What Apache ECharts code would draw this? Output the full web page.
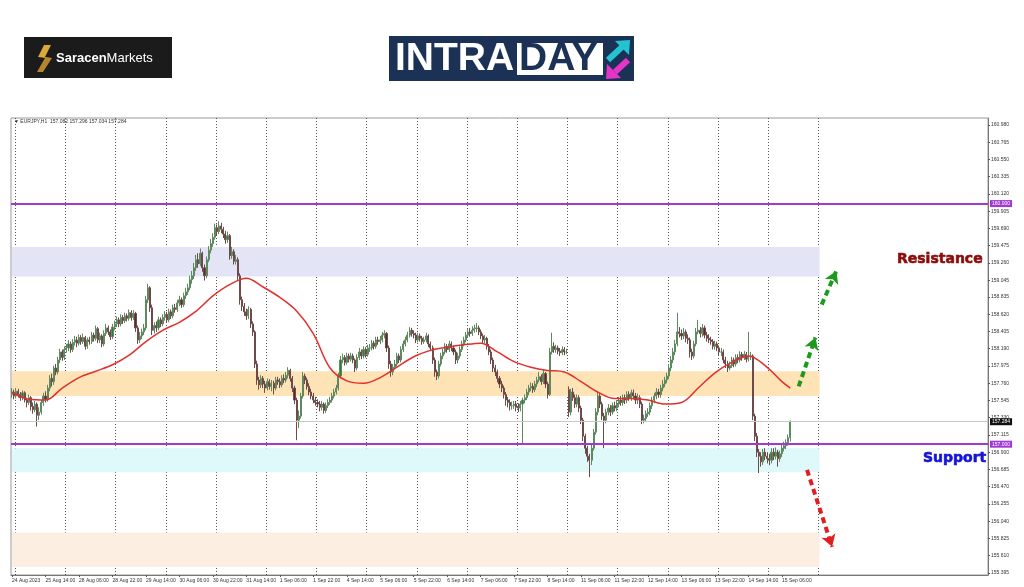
<!DOCTYPE html>
<html><head><meta charset="utf-8">
<script src="https://cdn.jsdelivr.net/npm/echarts@6/dist/echarts.min.js"></script>
<style>html,body{margin:0;padding:0;background:#fff}#c{width:1024px;height:587px}</style>
</head><body><div id="c"></div>
<script>
// ---------- DATA (EURJPY H1) ----------
const opens = [
157.62,157.65,157.60,157.66,157.62,157.58,157.64,157.55,157.52,157.58,
157.47,157.43,157.50,157.36,157.40,157.52,157.60,157.56,157.70,157.82,
157.78,157.95,157.90,158.05,158.15,158.08,158.18,158.20,158.25,158.18,
158.27,158.30,158.26,158.33,158.28,158.33,158.22,158.30,158.28,158.36,
158.32,158.44,158.30,158.35,158.25,158.38,158.45,158.40,158.34,158.46,
158.50,158.55,158.50,158.58,158.54,158.60,158.57,158.64,158.58,158.63,
158.45,158.30,158.35,158.40,158.45,158.80,158.95,158.70,158.42,158.48,
158.45,158.55,158.50,158.58,158.62,158.55,158.65,158.60,158.70,158.68,
158.76,158.80,158.74,158.85,158.90,158.95,159.05,159.10,159.20,159.30,
159.25,159.38,159.20,159.10,159.30,159.42,159.50,159.58,159.70,159.65,
159.72,159.68,159.62,159.55,159.60,159.35,159.40,159.28,159.30,159.10,
158.80,158.72,158.65,158.60,158.68,158.50,158.40,158.00,157.80,157.74,
157.82,157.75,157.70,157.78,157.72,157.76,157.70,157.80,157.78,157.74,
157.82,157.80,157.86,157.92,157.82,157.70,157.55,157.30,157.35,157.60,
157.85,157.80,157.72,157.65,157.60,157.55,157.52,157.50,157.46,157.50,
157.42,157.48,157.52,157.55,157.60,157.65,157.70,157.85,158.05,158.08,
158.02,158.10,158.06,158.10,158.05,157.95,158.08,158.15,158.10,158.18,
158.12,158.20,158.20,158.26,158.22,158.30,158.28,158.30,158.36,158.38,
158.20,158.00,157.90,157.96,158.00,158.10,158.05,158.18,158.25,158.30,
158.36,158.42,158.38,158.36,158.30,158.35,158.32,158.28,158.30,158.35,
158.25,158.20,158.05,157.90,157.85,158.00,158.10,158.15,158.22,158.18,
158.25,158.20,158.15,158.05,158.10,158.18,158.25,158.30,158.36,158.40,
158.38,158.42,158.44,158.45,158.40,158.35,158.30,158.32,158.22,158.15,
158.05,157.95,157.90,157.82,157.75,157.70,157.62,157.55,157.52,157.48,
157.48,157.50,157.46,157.45,157.50,157.55,157.58,157.65,157.70,157.72,
157.68,157.75,157.80,157.84,157.78,157.88,157.75,157.62,158.15,158.22,
158.18,158.20,158.16,158.14,158.18,158.15,157.68,157.40,157.65,157.58,
157.50,157.58,157.45,157.30,157.10,156.95,156.85,156.80,156.95,157.15,
157.40,157.60,157.50,157.35,157.30,157.40,157.45,157.40,157.48,157.45,
157.50,157.55,157.52,157.58,157.55,157.62,157.58,157.64,157.60,157.55,
157.58,157.50,157.30,157.32,157.38,157.40,157.48,157.55,157.60,157.65,
157.62,157.70,157.75,157.80,157.85,157.95,158.05,158.15,158.25,158.40,
158.38,158.35,158.40,158.32,158.30,158.15,158.10,158.25,158.40,158.42,
158.38,158.45,158.36,158.32,158.30,158.28,158.22,158.25,158.20,158.15,
158.15,158.05,158.00,157.95,157.98,158.05,158.00,158.08,158.05,158.12,
158.08,158.12,158.06,158.10,158.10,157.35,157.10,156.90,156.85,156.78,
156.90,156.85,156.82,156.80,156.90,156.85,156.90,156.82,156.88,156.95,
156.98,157.02,157.082];
const closes = [
157.65,157.60,157.66,157.62,157.58,157.64,157.55,157.52,157.58,157.47,
157.43,157.50,157.36,157.40,157.52,157.60,157.56,157.70,157.82,157.78,
157.95,157.90,158.05,158.15,158.08,158.18,158.20,158.25,158.18,158.27,
158.30,158.26,158.33,158.28,158.33,158.22,158.30,158.28,158.36,158.32,
158.44,158.30,158.35,158.25,158.38,158.45,158.40,158.34,158.46,158.50,
158.55,158.50,158.58,158.54,158.60,158.57,158.64,158.58,158.63,158.45,
158.30,158.35,158.40,158.45,158.80,158.95,158.70,158.42,158.48,158.45,
158.55,158.50,158.58,158.62,158.55,158.65,158.60,158.70,158.68,158.76,
158.80,158.74,158.85,158.90,158.95,159.05,159.10,159.20,159.30,159.25,
159.38,159.20,159.10,159.30,159.42,159.50,159.58,159.70,159.65,159.72,
159.68,159.62,159.55,159.60,159.35,159.40,159.28,159.30,159.10,158.80,
158.72,158.65,158.60,158.68,158.50,158.40,158.00,157.80,157.74,157.82,
157.75,157.70,157.78,157.72,157.76,157.70,157.80,157.78,157.74,157.82,
157.80,157.86,157.92,157.82,157.70,157.55,157.30,157.35,157.60,157.85,
157.80,157.72,157.65,157.60,157.55,157.52,157.50,157.46,157.50,157.42,
157.48,157.52,157.55,157.60,157.65,157.70,157.85,158.05,158.08,158.02,
158.10,158.06,158.10,158.05,157.95,158.08,158.15,158.10,158.18,158.12,
158.20,158.20,158.26,158.22,158.30,158.28,158.30,158.36,158.38,158.20,
158.00,157.90,157.96,158.00,158.10,158.05,158.18,158.25,158.30,158.36,
158.42,158.38,158.36,158.30,158.35,158.32,158.28,158.30,158.35,158.25,
158.20,158.05,157.90,157.85,158.00,158.10,158.15,158.22,158.18,158.25,
158.20,158.15,158.05,158.10,158.18,158.25,158.30,158.36,158.40,158.38,
158.42,158.44,158.45,158.40,158.35,158.30,158.32,158.22,158.15,158.05,
157.95,157.90,157.82,157.75,157.70,157.62,157.55,157.52,157.48,157.48,
157.50,157.46,157.45,157.50,157.55,157.58,157.65,157.70,157.72,157.68,
157.75,157.80,157.84,157.78,157.88,157.75,157.62,158.15,158.22,158.18,
158.20,158.16,158.14,158.18,158.15,158.15,157.40,157.65,157.58,157.50,
157.58,157.45,157.30,157.10,156.95,156.85,156.80,156.95,157.15,157.40,
157.60,157.50,157.35,157.30,157.40,157.45,157.40,157.48,157.45,157.50,
157.55,157.52,157.58,157.55,157.62,157.58,157.64,157.60,157.55,157.58,
157.50,157.30,157.32,157.38,157.40,157.48,157.55,157.60,157.65,157.62,
157.70,157.75,157.80,157.85,157.95,158.05,158.15,158.25,158.40,158.38,
158.35,158.40,158.32,158.30,158.15,158.10,158.25,158.40,158.42,158.38,
158.45,158.36,158.32,158.30,158.28,158.22,158.25,158.20,158.15,158.15,
158.05,158.00,157.95,157.98,158.05,158.00,158.08,158.05,158.12,158.08,
158.12,158.06,158.10,158.10,157.35,157.10,156.90,156.85,156.78,156.90,
156.85,156.82,156.80,156.90,156.85,156.90,156.82,156.88,156.95,156.98,
157.02,157.08,157.284];
const highs = [
157.70,157.68,157.70,157.69,157.65,157.67,157.66,157.58,157.62,157.60,
157.52,157.54,157.52,157.46,157.55,157.64,157.66,157.74,157.86,157.88,
157.98,158.00,158.09,158.19,158.18,158.22,158.25,158.30,158.28,158.31,
158.35,158.34,158.37,158.36,158.38,158.35,158.33,158.34,158.40,158.39,
158.48,158.46,158.39,158.37,158.42,158.50,158.48,158.43,158.50,158.54,
158.59,158.58,158.62,158.61,158.64,158.63,158.68,158.67,158.67,158.65,
158.48,158.40,158.44,158.50,158.85,159.00,158.97,158.74,158.52,158.53,
158.59,158.58,158.62,158.66,158.65,158.69,158.68,158.74,158.75,158.80,
158.85,158.83,158.89,158.95,159.00,159.10,159.16,159.26,159.36,159.38,
159.44,159.40,159.24,159.34,159.47,159.56,159.63,159.75,159.74,159.78,
159.76,159.71,159.66,159.65,159.62,159.46,159.43,159.36,159.33,159.13,
158.84,158.76,158.69,158.72,158.70,158.53,158.42,158.04,157.84,157.86,
157.85,157.79,157.82,157.81,157.80,157.79,157.84,157.84,157.82,157.86,
157.87,157.90,157.96,157.94,157.85,157.73,157.58,157.42,157.64,157.90,
157.88,157.83,157.76,157.69,157.64,157.59,157.56,157.54,157.54,157.52,
157.52,157.56,157.59,157.64,157.69,157.74,157.89,158.10,158.13,158.11,
158.14,158.13,158.14,158.13,158.07,158.12,158.20,158.18,158.22,158.21,
158.24,158.25,158.30,158.29,158.34,158.34,158.35,158.40,158.42,158.40,
158.23,158.04,158.00,158.05,158.14,158.13,158.22,158.29,158.34,158.40,
158.46,158.45,158.42,158.39,158.39,158.38,158.35,158.34,158.39,158.37,
158.28,158.23,158.08,157.93,158.04,158.14,158.19,158.26,158.25,158.29,
158.28,158.23,158.18,158.14,158.22,158.29,158.34,158.40,158.44,158.45,
158.47,158.49,158.51,158.48,158.43,158.38,158.36,158.34,158.25,158.18,
158.08,157.99,157.93,157.85,157.79,157.73,157.65,157.59,157.56,157.53,
157.54,157.54,157.51,157.54,157.58,157.62,157.69,157.74,157.77,157.76,
157.79,157.84,157.90,157.87,157.93,157.90,157.78,158.20,158.39,158.27,
158.24,158.23,158.20,158.22,158.21,158.19,157.72,157.69,157.70,157.62,
157.62,157.61,157.48,157.33,157.13,156.98,156.88,156.99,157.19,157.45,
157.66,157.64,157.53,157.39,157.44,157.50,157.49,157.52,157.53,157.55,
157.59,157.60,157.62,157.62,157.66,157.66,157.68,157.68,157.64,157.63,
157.61,157.53,157.37,157.42,157.45,157.52,157.59,157.64,157.70,157.69,
157.74,157.80,157.84,157.89,158.00,158.10,158.20,158.30,158.64,158.46,
158.43,158.45,158.43,158.37,158.33,158.19,158.29,158.45,158.55,158.46,
158.50,158.48,158.40,158.37,158.34,158.31,158.29,158.28,158.23,158.20,
158.18,158.09,158.04,158.03,158.09,158.08,158.12,158.12,158.16,158.15,
158.16,158.15,158.40,158.15,158.12,157.38,157.14,156.94,156.90,156.94,
156.95,156.90,156.88,156.95,156.95,156.96,156.93,156.92,157.00,157.03,
157.06,157.12,157.296];
const lows = [
157.58,157.56,157.57,157.58,157.54,157.55,157.52,157.46,157.49,157.42,
157.38,157.40,157.22,157.30,157.37,157.48,157.52,157.53,157.66,157.72,
157.74,157.86,157.87,158.01,158.04,158.05,158.14,158.16,158.14,158.15,
158.23,158.21,158.23,158.24,158.25,158.18,158.19,158.24,158.25,158.28,
158.29,158.26,158.26,158.21,158.22,158.35,158.36,158.30,158.31,158.42,
158.46,158.46,158.47,158.50,158.51,158.53,158.54,158.54,158.55,158.40,
158.25,158.26,158.31,158.36,158.42,158.76,158.65,158.36,158.38,158.40,
158.42,158.46,158.47,158.54,158.51,158.52,158.56,158.57,158.64,158.65,
158.72,158.70,158.71,158.81,158.86,158.92,159.00,159.06,159.16,159.20,
159.22,159.15,159.04,159.07,159.27,159.38,159.46,159.55,159.60,159.62,
159.63,159.57,159.50,159.51,159.30,159.31,159.24,159.24,159.05,158.74,
158.66,158.60,158.55,158.56,158.45,158.35,157.95,157.74,157.68,157.70,
157.70,157.64,157.67,157.68,157.66,157.62,157.67,157.74,157.70,157.71,
157.76,157.77,157.82,157.78,157.65,157.50,157.05,157.20,157.32,157.57,
157.75,157.68,157.61,157.56,157.51,157.48,157.46,157.41,157.42,157.38,
157.39,157.45,157.49,157.52,157.57,157.62,157.67,157.82,158.01,157.98,
157.99,158.02,158.03,158.01,157.90,157.92,158.05,158.06,158.07,158.08,
158.09,158.15,158.17,158.18,158.19,158.24,158.25,158.27,158.32,158.15,
157.94,157.84,157.86,157.93,157.97,158.01,158.02,158.15,158.22,158.27,
158.33,158.34,158.32,158.26,158.27,158.28,158.24,158.25,158.27,158.21,
158.16,158.00,157.84,157.80,157.82,157.97,158.06,158.12,158.14,158.15,
158.16,158.11,158.00,158.01,158.07,158.15,158.22,158.27,158.33,158.34,
158.35,158.39,158.40,158.36,158.31,158.26,158.26,158.18,158.11,158.00,
157.90,157.85,157.77,157.70,157.65,157.57,157.48,157.46,157.42,157.43,
157.44,157.41,157.40,157.41,156.99,157.51,157.55,157.61,157.66,157.64,
157.65,157.71,157.77,157.74,157.75,157.70,157.57,157.60,158.12,158.14,
158.14,158.12,158.10,158.11,158.11,158.12,157.34,157.36,157.54,157.45,
157.46,157.40,157.25,157.04,156.88,156.78,156.59,156.74,156.92,157.12,
157.36,157.45,157.30,156.95,157.26,157.36,157.35,157.37,157.41,157.41,
157.46,157.48,157.48,157.50,157.51,157.54,157.54,157.56,157.50,157.50,
157.45,157.25,157.26,157.28,157.34,157.36,157.44,157.51,157.56,157.58,
157.58,157.66,157.71,157.76,157.81,157.91,158.01,158.11,158.22,158.33,
158.30,158.31,158.27,158.25,158.08,158.05,158.07,158.22,158.37,158.33,
158.34,158.32,158.28,158.26,158.24,158.18,158.18,158.16,158.11,158.10,
158.01,157.95,157.90,157.92,157.95,157.96,157.97,158.01,158.02,158.04,
158.05,158.02,158.03,158.05,157.30,157.04,156.84,156.64,156.72,156.74,
156.80,156.76,156.74,156.76,156.80,156.81,156.72,156.78,156.84,156.91,
156.94,156.98,157.034];

// moving average (red line), [bar index, value]
const maPoints = [
[0,157.65],[8,157.56],[16,157.55],[24,157.70],[32,157.83],[40,157.91],[48,157.99],
[56,158.11],[64,158.28],[72,158.42],[80,158.52],[88,158.66],[96,158.85],[104,158.99],
[112,159.07],[120,158.96],[128,158.83],[136,158.66],[144,158.38],[152,157.95],[160,157.79],
[168,157.76],[176,157.83],[184,157.96],[192,158.09],[200,158.17],[208,158.21],[216,158.24],
[224,158.26],[232,158.15],[240,158.03],[248,157.96],[256,157.92],[264,157.90],[272,157.78],
[280,157.65],[288,157.57],[296,157.57],[304,157.55],[312,157.50],[320,157.52],[328,157.70],
[336,157.89],[344,158.02],[352,158.10],[360,157.98],[368,157.78],[372,157.70]];

const xTickLabels = ["24 Aug 2023","25 Aug 14:00","28 Aug 06:00","28 Aug 22:00","29 Aug 14:00",
"30 Aug 06:00","30 Aug 22:00","31 Aug 14:00","1 Sep 06:00","1 Sep 22:00","4 Sep 14:00",
"5 Sep 06:00","5 Sep 22:00","6 Sep 14:00","7 Sep 06:00","7 Sep 22:00","8 Sep 14:00",
"11 Sep 06:00","11 Sep 22:00","12 Sep 14:00","13 Sep 06:00","13 Sep 22:00","14 Sep 14:00","15 Sep 06:00"];
const yTicks = [155.395,155.610,155.825,156.040,156.255,156.470,156.685,156.900,157.115,157.330,
157.545,157.760,157.975,158.190,158.405,158.620,158.835,159.045,159.260,159.475,159.690,
159.905,160.120,160.335,160.550,160.765,160.980];

const resistanceLevel = 160.000, supportLevel = 157.000, lastPrice = 157.284;
const resistanceZone = [159.09, 159.46];
const pivotZone = [157.60, 157.91];
const supportZone = [156.65, 156.95];
const lowerZone = [155.47, 155.90];
// annotation arrows: [[barIndex, price], [barIndex, price]]
const arrowUp1 = [[387, 158.74], [394, 159.16]];
const arrowUp2 = [[376, 157.72], [384, 158.33]];
const arrowDown = [[380, 156.68], [392, 155.72]];
const headerText = "\u25BC EURJPY,H1  157.082 157.296 157.034 157.284";

// ---------- CHART ----------
const SLOTS = 467, ZONE_END = 386;
const categories = Array.from({length: SLOTS}, (_, i) => String(i));
const candles = closes.map((c, i) => [opens[i], c, lows[i], highs[i]]);
const F = '"Liberation Sans", Arial, sans-serif';

function zone(r, color) {
  return [{xAxis: 0, yAxis: r[1], itemStyle: {color}}, {xAxis: ZONE_END, yAxis: r[0]}];
}
function arrow(a, color) {
  return [{coord: a[0], symbol: 'none', label: {show: false}, lineStyle: {color, width: 4, type: [6, 4]}},
          {coord: a[1], symbol: 'arrow', symbolSize: [11, 12], itemStyle: {color}}];
}

const chart = echarts.init(document.getElementById('c'), null, {renderer: 'canvas'});
chart.setOption({
  animation: false,
  backgroundColor: '#ffffff',
  grid: {left: 11, right: 36, top: 118, bottom: 12, show: true, borderColor: '#9a9a9a', borderWidth: 1},
  xAxis: {
    type: 'category', data: categories, boundaryGap: true,
    axisLine: {show: true, lineStyle: {color: '#777'}},
    axisTick: {show: true, alignWithLabel: true, length: 2, lineStyle: {color: '#555'},
      interval: (i) => i % 16 === 0 && i / 16 < xTickLabels.length},
    axisLabel: {show: true, fontSize: 5, color: '#333', fontFamily: F, align: 'left', margin: 3,
      interval: (i) => i % 16 === 0 && i / 16 < xTickLabels.length,
      formatter: (v, i) => xTickLabels[i / 16] || ''},
    splitLine: {show: true, interval: (i) => i % 24 === 2 && i <= ZONE_END,
      lineStyle: {color: '#555', type: [1, 2], width: 1}}
  },
  yAxis: {
    type: 'value', position: 'right', min: 155.369, max: 161.067, scale: true,
    axisLine: {show: true, lineStyle: {color: '#777'}},
    axisTick: {show: true, length: 2, customValues: yTicks, lineStyle: {color: '#555'}},
    axisLabel: {show: true, fontSize: 5, color: '#333', fontFamily: F, margin: 3,
      customValues: yTicks, formatter: (v) => v.toFixed(3)},
    splitLine: {show: false}
  },
  series: [
    {
      type: 'line', data: [], z: 1, silent: true,
      markArea: {silent: true, data: [
        zone(resistanceZone, '#e4e4f7'),
        zone(pivotZone, '#fde3b6'),
        zone(supportZone, '#dff9fa'),
        zone(lowerZone, '#fcefe2')
      ]}
    },
    {
      type: 'candlestick', data: candles, z: 2, barWidth: '75%',
      itemStyle: {color: '#347a34', color0: '#5c2828', borderColor: '#5f8a5f', borderColor0: '#6e4a4a', borderWidth: 1},
      markLine: {
        silent: true, symbol: ['none', 'none'], animation: false,
        label: {show: true, position: 'end', distance: 2, fontSize: 5, fontFamily: F, color: '#fff', padding: [1, 2]},
        data: [
          {yAxis: resistanceLevel, lineStyle: {color: '#a13ad0', width: 2, type: 'solid'},
            label: {formatter: resistanceLevel.toFixed(3), backgroundColor: '#a13ad0'}},
          {yAxis: supportLevel, lineStyle: {color: '#a13ad0', width: 2, type: 'solid'},
            label: {formatter: supportLevel.toFixed(3), backgroundColor: '#a13ad0'}},
          {yAxis: lastPrice, lineStyle: {color: '#c8c8c8', width: 1, type: 'solid'},
            label: {formatter: lastPrice.toFixed(3), backgroundColor: '#111'}},
          arrow(arrowUp1, '#1c9a1c'),
          arrow(arrowUp2, '#1c9a1c'),
          arrow(arrowDown, '#e02020')
        ]
      }
    },
    {
      type: 'line', data: maPoints, z: 3, smooth: 0.35, symbol: 'none', silent: true,
      lineStyle: {color: '#e0302c', width: 1.5}
    }
  ],
  graphic: [
    {type: 'text', left: 14, top: 119, z: 10, style: {text: headerText, fontSize: 5, fill: '#333', fontFamily: F}},
    // Saracen Markets logo
    {type: 'rect', z: 10, shape: {x: 24, y: 37, width: 148, height: 41}, style: {fill: '#1b1b1b'}},
    {type: 'polygon', z: 11, shape: {points: [[44, 45], [51, 45], [45, 57], [38, 57]]}, style: {fill: '#d9a93c'}},
    {type: 'polygon', z: 11, shape: {points: [[45, 58], [52, 58], [43, 72], [37, 72]]}, style: {fill: '#b8862a'}},
    {type: 'polygon', z: 11, shape: {points: [[38, 57], [45, 57], [52, 58], [45, 58]]}, style: {fill: '#c99632'}},
    {type: 'text', z: 11, x: 56, y: 58, style: {text: '{a|Saracen}{b|Markets}', verticalAlign: 'middle',
      rich: {a: {fontSize: 13, fontWeight: 'bold', fill: '#fff', fontFamily: F},
             b: {fontSize: 13, fill: '#fff', fontFamily: F}}}},
    // INTRADAY logo
    {type: 'rect', z: 10, shape: {x: 389, y: 36, width: 245, height: 45}, style: {fill: '#1b3256'}},
    {type: 'rect', z: 11, shape: {x: 517, y: 43, width: 86, height: 32}, style: {fill: '#ffffff'}},
    {type: 'text', z: 12, x: 395, y: 59, style: {text: 'INTRA', fontSize: 39, fontWeight: 'bold', fill: '#fff', fontFamily: F, verticalAlign: 'middle'}},
    {type: 'text', z: 12, x: 519, y: 59, style: {text: 'DAY', fontSize: 39, fontWeight: 'bold', fill: '#1b3256', fontFamily: F, verticalAlign: 'middle'}},
    {type: 'line', z: 12, shape: {x1: 608, y1: 60, x2: 622, y2: 47}, style: {stroke: '#22c4d2', lineWidth: 6}},
    {type: 'polygon', z: 12, shape: {points: [[630, 40], [615, 41], [629, 55]]}, style: {fill: '#22c4d2'}},
    {type: 'line', z: 12, shape: {x1: 628, y1: 60, x2: 615, y2: 72}, style: {stroke: '#e535c6', lineWidth: 6}},
    {type: 'polygon', z: 12, shape: {points: [[606, 79], [607, 64], [621, 78]]}, style: {fill: '#e535c6'}},
    // annotations
    {type: 'text', z: 12, x: 897, y: 259, style: {text: 'Resistance', fontSize: 14, fontWeight: 'bold', fill: '#8a0c0c', fontFamily: '"DejaVu Sans", sans-serif', verticalAlign: 'middle', stroke: '#8a0c0c', lineWidth: 0.6}},
    {type: 'text', z: 12, x: 923, y: 458, style: {text: 'Support', fontSize: 14, fontWeight: 'bold', fill: '#1414d6', fontFamily: '"DejaVu Sans", sans-serif', verticalAlign: 'middle', stroke: '#1414d6', lineWidth: 0.6}}
  ]
});
</script></body></html>
